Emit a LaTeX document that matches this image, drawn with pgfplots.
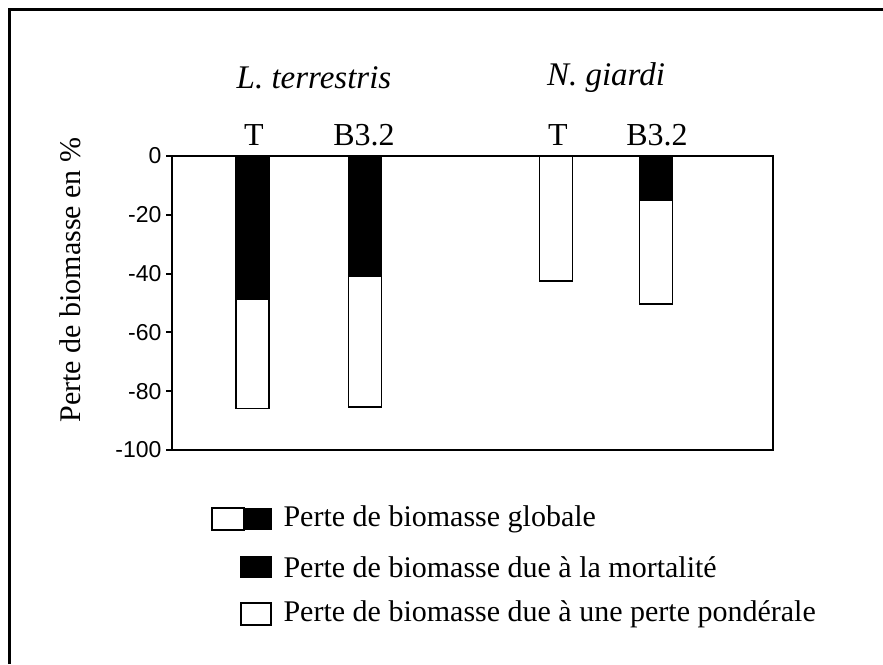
\documentclass[border=0pt]{standalone}
\usepackage{pgfplots}
\pgfplotsset{compat=1.18}
\usepackage{fontspec}
\setmainfont{Liberation Serif}
\setsansfont{Liberation Sans}

% values (x in units of 100 px from the left edge of the axis)
\pgfplotstableread{
x      mort   pond
0.805  -48.7  -37.1
1.93   -40.8  -44.6
3.84   0      -42.5
4.84   -15.0  -35.3
}\biomasse

\begin{document}
\begin{tikzpicture}
\useasboundingbox (0pt,0pt) rectangle (883pt,-664pt);
% outer frame (only top and left edges visible)
\draw[line width=3pt] (9pt,-664pt) -- (9pt,-9pt) -- (883pt,-9pt);

\begin{axis}[
    at={(172pt,-450pt)}, anchor=south west,
    scale only axis, width=601pt, height=294pt,
    ybar stacked, bar width=0.33,
    xmin=0, xmax=6.01, ymin=-100, ymax=0,
    xtick=\empty,
    ytick={0,-20,-40,-60,-80,-100},
    ytick pos=left, tick align=outside,
    major tick length=6pt,
    axis line style={line width=2.5pt},
    every tick/.style={line width=2pt, black},
    tick label style={font=\fontsize{23}{26}\selectfont\sffamily},
    /pgf/number format/assume math mode=true,
    yticklabel style={xshift=-1pt},
    ylabel={Perte de biomasse en \%},
    ylabel style={at={(axis description cs:-0.17,0.578)}, anchor=center,
                  font=\fontsize{30}{34}\selectfont},
    clip=false,
]
\addplot[fill=black, draw=black, line width=1.5pt] table[x=x, y=mort] {\biomasse};
\addplot[fill=white, draw=black, line width=1.5pt] table[x=x, y=pond] {\biomasse};
\end{axis}

% group and bar labels
\begin{scope}[font=\fontsize{32}{36}\selectfont]
\node at (314pt,-78pt) {\fontsize{33}{36}\selectfont\itshape L. terrestris};
\node at (606pt,-78pt) {\fontsize{33}{36}\selectfont\itshape N. giardi};
\node at (254pt,-135pt) {T};
\node at (364pt,-135pt) {B3.2};
\node at (558pt,-135pt) {T};
\node at (657pt,-135pt) {B3.2};
\end{scope}

% legend
\begin{scope}[font=\fontsize{30}{34}\selectfont]
\draw[line width=1.5pt, fill=white] (212pt,-508pt) rectangle (244pt,-530pt);
\fill (244pt,-508pt) rectangle (272pt,-530pt);
\fill (240pt,-556pt) rectangle (272pt,-578pt);
\draw[line width=1.5pt, fill=white] (241pt,-603pt) rectangle (271pt,-625pt);
\node[anchor=west] at (280pt,-519pt) {Perte de biomasse globale};
\node[anchor=west] at (280pt,-567pt) {Perte de biomasse due à la mortalité};
\node[anchor=west] at (280pt,-614pt) {Perte de biomasse due à une perte pondérale};
\end{scope}
\end{tikzpicture}
\end{document}
